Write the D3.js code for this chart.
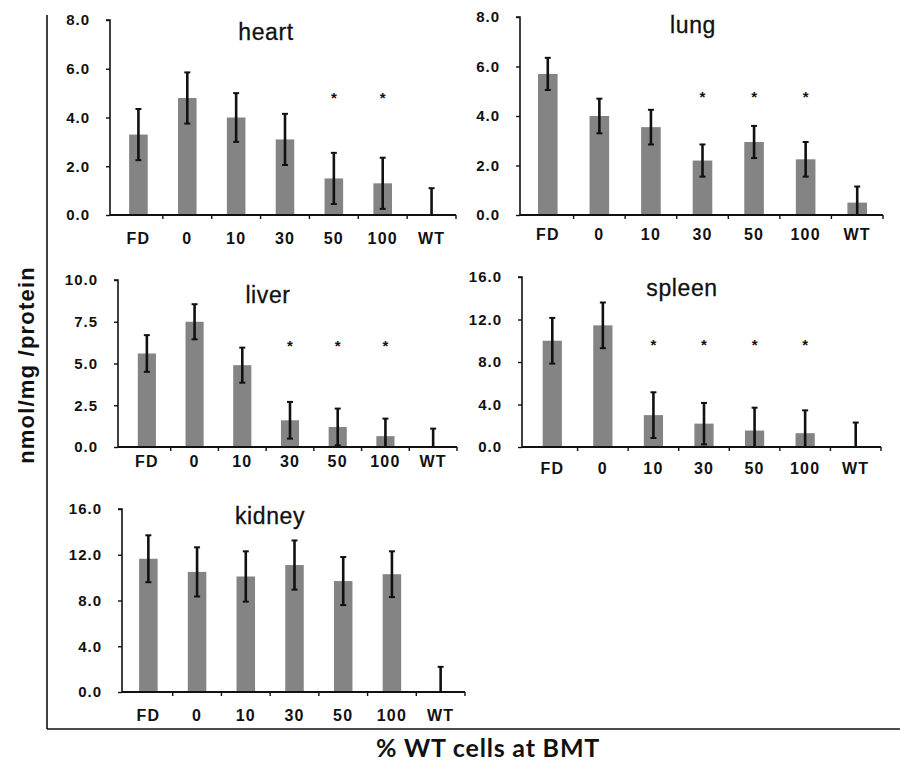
<!DOCTYPE html>
<html>
<head>
<meta charset="utf-8">
<script src="https://cdn.jsdelivr.net/npm/d3@7"></script>
<style>
  html, body { margin: 0; padding: 0; background: #fff; }
  svg { display: block; }
</style>
</head>
<body>
<svg id="chart" width="900" height="765"></svg>
<script>
// ---------- data ----------
const categories = ["FD", "0", "10", "30", "50", "100", "WT"];

const heartMean  = [3.3, 4.8, 4.0, 3.1, 1.5, 1.3, 0];
const heartErr   = [1.05, 1.05, 1.0, 1.05, 1.05, 1.05, 1.1];
const heartStars = ["50", "100"];
const heartTicks = [0, 2, 4, 6, 8];

const lungMean  = [5.7, 4.0, 3.55, 2.2, 2.95, 2.25, 0.5];
const lungErr   = [0.65, 0.7, 0.7, 0.65, 0.65, 0.7, 0.65];
const lungStars = ["30", "50", "100"];
const lungTicks = [0, 2, 4, 6, 8];

const liverMean  = [5.6, 7.5, 4.9, 1.6, 1.2, 0.65, 0];
const liverErr   = [1.1, 1.05, 1.05, 1.1, 1.1, 1.05, 1.1];
const liverStars = ["30", "50", "100"];
const liverTicks = [0, 2.5, 5, 7.5, 10];

const spleenMean  = [10.0, 11.45, 3.0, 2.2, 1.55, 1.3, 0];
const spleenErr   = [2.15, 2.15, 2.15, 1.95, 2.15, 2.15, 2.3];
const spleenStars = ["10", "30", "50", "100"];
const spleenTicks = [0, 4, 8, 12, 16];

const kidneyMean  = [11.65, 10.5, 10.1, 11.1, 9.7, 10.3, 0];
const kidneyErr   = [2.05, 2.15, 2.2, 2.15, 2.1, 2.0, 2.2];
const kidneyStars = [];
const kidneyTicks = [0, 4, 8, 12, 16];

const yTitle = "nmol/mg /protein";
const xTitle = "% WT cells at BMT";

// ---------- layout ----------
const panels = [
  { name: "heart",  mean: heartMean,  err: heartErr,  stars: heartStars,  ticks: heartTicks,  starLevel: 4.85,
    axisX: 110, band: [114, 456], yPx: [215, 20],  labelDy: 23, title: [266, 32] },
  { name: "lung",   mean: lungMean,   err: lungErr,   stars: lungStars,   ticks: lungTicks,   starLevel: 4.8,
    axisX: 520, band: [522, 883], yPx: [215, 17],  labelDy: 19, title: [693, 25] },
  { name: "liver",  mean: liverMean,  err: liverErr,  stars: liverStars,  ticks: liverTicks,  starLevel: 6.1,
    axisX: 118, band: [123, 457], yPx: [447, 280], labelDy: 14, title: [268, 295] },
  { name: "spleen", mean: spleenMean, err: spleenErr, stars: spleenStars, ticks: spleenTicks, starLevel: 9.7,
    axisX: 522, band: [527, 881], yPx: [447, 277], labelDy: 21, title: [682, 288] },
  { name: "kidney", mean: kidneyMean, err: kidneyErr, stars: kidneyStars, ticks: kidneyTicks, starLevel: 0,
    axisX: 122, band: [124, 465], yPx: [692, 509], labelDy: 23, title: [270, 516] }
];

const svg = d3.select("#chart");
const ink = "#111";
const barFill = "#848484";
const fmt = d3.format(".1f");
const font = "Liberation Sans, Arial, sans-serif";

// outer frame (left + bottom)
svg.append("line").attr("x1", 47).attr("x2", 47).attr("y1", 15).attr("y2", 729)
  .attr("stroke", ink).attr("stroke-width", 1.6);
svg.append("line").attr("x1", 47).attr("x2", 900).attr("y1", 729).attr("y2", 729)
  .attr("stroke", ink).attr("stroke-width", 1.6);

panels.forEach(p => {
  const g = svg.append("g").attr("class", "panel-" + p.name);
  const x = d3.scaleBand().domain(categories).range(p.band).padding(0);
  const y = d3.scaleLinear().domain([0, d3.max(p.ticks)]).range(p.yPx);
  const bw = x.bandwidth() * 0.38;
  const cx = c => x(c) + x.bandwidth() / 2;

  const rows = categories.map((c, i) => ({ c, m: p.mean[i], e: p.err[i] }));

  // bars
  g.selectAll("rect.bar").data(rows.filter(d => d.m > 0)).join("rect")
    .attr("class", "bar")
    .attr("x", d => cx(d.c) - bw / 2)
    .attr("width", bw)
    .attr("y", d => y(d.m))
    .attr("height", d => y(0) - y(d.m))
    .attr("fill", barFill);

  // error bars
  const eb = g.selectAll("g.err").data(rows).join("g").attr("class", "err");
  eb.append("line")
    .attr("x1", d => cx(d.c)).attr("x2", d => cx(d.c))
    .attr("y1", d => y(Math.max(0, d.m - d.e)))
    .attr("y2", d => y(d.m + d.e))
    .attr("stroke", ink).attr("stroke-width", 2.6);
  eb.append("line")
    .attr("x1", d => cx(d.c) - 3).attr("x2", d => cx(d.c) + 3)
    .attr("y1", d => y(d.m + d.e)).attr("y2", d => y(d.m + d.e))
    .attr("stroke", ink).attr("stroke-width", 2);
  eb.filter(d => d.m - d.e > 0).append("line")
    .attr("x1", d => cx(d.c) - 3).attr("x2", d => cx(d.c) + 3)
    .attr("y1", d => y(d.m - d.e)).attr("y2", d => y(d.m - d.e))
    .attr("stroke", ink).attr("stroke-width", 2);

  // significance stars
  g.selectAll("text.star").data(p.stars).join("text")
    .attr("class", "star")
    .attr("x", d => cx(d))
    .attr("y", y(p.starLevel) + 6)
    .attr("text-anchor", "middle")
    .attr("font-family", font)
    .attr("font-weight", "bold")
    .attr("font-size", 15)
    .attr("fill", ink)
    .text("*");

  // y axis
  const yAxis = d3.axisLeft(y).tickValues(p.ticks).tickFormat(fmt).tickSize(4).tickPadding(16);
  const ya = g.append("g").attr("transform", `translate(${p.axisX},0)`).call(yAxis);
  ya.select(".domain").attr("d", `M-4,${y(d3.max(p.ticks))}H0V${y(0)}`)
    .attr("stroke", ink).attr("stroke-width", 1.6);
  ya.selectAll(".tick line").attr("stroke", ink).attr("stroke-width", 1.4);
  ya.selectAll(".tick text")
    .attr("font-family", font)
    .attr("font-weight", "bold").attr("font-size", 15)
    .attr("letter-spacing", 1).attr("fill", ink);

  // x axis
  const xa = g.append("g").attr("transform", `translate(0,${y(0)})`);
  xa.append("line").attr("x1", p.axisX).attr("x2", p.band[1]).attr("y1", 0).attr("y2", 0)
    .attr("stroke", ink).attr("stroke-width", 1.8);
  xa.selectAll("line.xt").data(categories).join("line")
    .attr("class", "xt")
    .attr("x1", d => x(d) + x.bandwidth()).attr("x2", d => x(d) + x.bandwidth())
    .attr("y1", 0).attr("y2", 4)
    .attr("stroke", ink).attr("stroke-width", 1.4);
  xa.selectAll("text.xl").data(categories).join("text")
    .attr("class", "xl")
    .attr("x", d => cx(d))
    .attr("y", p.labelDy + 6)
    .attr("text-anchor", "middle")
    .attr("font-family", font)
    .attr("font-weight", "bold").attr("font-size", 16)
    .attr("letter-spacing", 1.2).attr("fill", ink)
    .text(d => d);

  // panel title
  g.append("text")
    .attr("x", p.title[0]).attr("y", p.title[1] + 8)
    .attr("text-anchor", "middle")
    .attr("font-family", font)
    .attr("font-size", 23).attr("letter-spacing", 0.6).attr("fill", ink)
    .attr("stroke", ink).attr("stroke-width", 0.3)
    .text(p.name);
});

// axis titles
svg.append("text")
  .attr("transform", "translate(34,365) rotate(-90)")
  .attr("text-anchor", "middle")
  .attr("font-family", font)
  .attr("font-weight", "bold").attr("font-size", 22).attr("letter-spacing", 1.2)
  .attr("fill", ink)
  .text(yTitle);

svg.append("text")
  .attr("x", 488).attr("y", 757)
  .attr("text-anchor", "middle")
  .attr("font-family", "Lato, Open Sans, sans-serif")
  .attr("font-weight", "bold").attr("font-size", 25).attr("letter-spacing", 0.8)
  .attr("fill", ink)
  .text(xTitle);
</script>
</body>
</html>
